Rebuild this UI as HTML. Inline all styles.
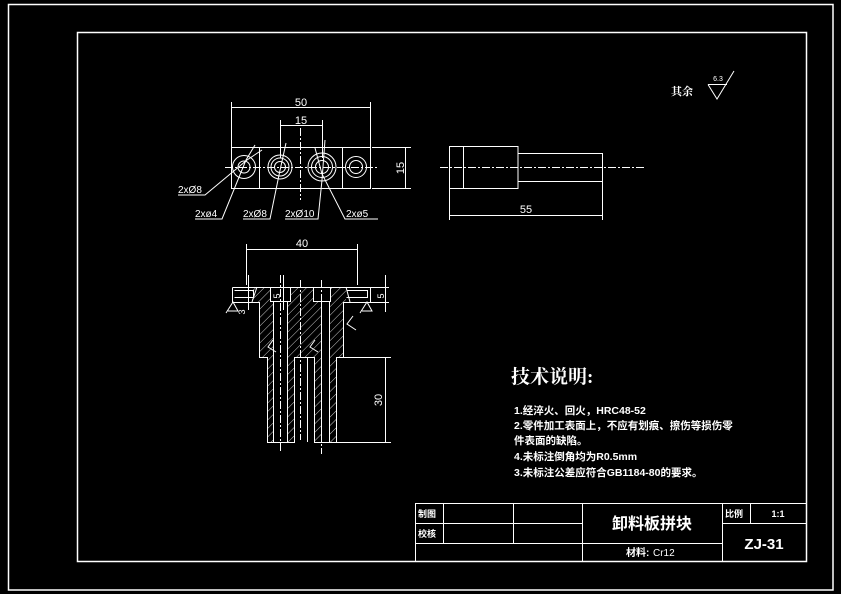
<!DOCTYPE html>
<html><head><meta charset="utf-8"><style>
html,body{margin:0;padding:0;background:#000;width:841px;height:594px;overflow:hidden}
svg{display:block}
text{fill:#fff;font-family:"Liberation Sans","Noto Sans CJK SC",sans-serif}
.c{font-family:"Liberation Serif","Noto Serif CJK SC","Noto Sans CJK SC",serif;font-weight:bold}
</style></head><body>
<svg width="841" height="594" viewBox="0 0 841 594" xmlns="http://www.w3.org/2000/svg">
<defs>
<pattern id="h" width="6" height="6" patternUnits="userSpaceOnUse" patternTransform="rotate(45)">
<line x1="0" y1="0" x2="0" y2="6" stroke="#fff" stroke-width="0.8"/>
</pattern>
</defs>
<g fill="none" stroke="#fff" stroke-width="1">
<rect x="8.5" y="4.5" width="824.5" height="585.5" stroke-width="1.5"/>
<rect x="77.5" y="32.5" width="729" height="529" stroke-width="1.5"/>

<!-- top view -->
<rect x="231.5" y="147.5" width="139" height="41"/>
<line x1="259.5" y1="147" x2="259.5" y2="189"/>
<line x1="342.5" y1="147" x2="342.5" y2="189"/>
<line x1="300.5" y1="128" x2="300.5" y2="200" stroke-dasharray="8,2,2,2"/>
<line x1="225" y1="167.5" x2="378" y2="167.5" stroke-dasharray="8,2,2,2"/>
<circle cx="244" cy="167" r="11.5"/><circle cx="244" cy="167" r="6"/>
<circle cx="280" cy="167" r="12"/><circle cx="280" cy="167" r="9"/><circle cx="280" cy="167" r="5.5"/>
<circle cx="322" cy="167" r="14"/><circle cx="322" cy="167" r="10.5"/><circle cx="322" cy="167" r="6.5"/>
<circle cx="356" cy="167" r="10.5"/><circle cx="356" cy="167" r="6.5"/>
<!-- dims -->
<line x1="231.5" y1="102" x2="231.5" y2="147"/><line x1="370.5" y1="102" x2="370.5" y2="147"/>
<line x1="231.5" y1="107.5" x2="370.5" y2="107.5"/>
<line x1="280.5" y1="120" x2="280.5" y2="158"/><line x1="322.5" y1="120" x2="322.5" y2="158"/>
<line x1="280.5" y1="125.5" x2="322.5" y2="125.5"/>
<line x1="372" y1="147.5" x2="411" y2="147.5"/><line x1="372" y1="188.5" x2="411" y2="188.5"/>
<line x1="405.5" y1="147.5" x2="405.5" y2="188.5"/>
<!-- leaders -->
<polyline points="178,195 205,195 247,160 262,150"/>
<polyline points="195,219 222,219 246,160 255,145"/>
<polyline points="243,219 270,219 279,175 286,143"/>
<polyline points="285,219 318,219 322,180 325,140"/>
<polyline points="378,219 345,219 322,174 315,148"/>

<!-- right view -->
<rect x="449.5" y="146.5" width="68.5" height="42"/>
<line x1="463.5" y1="146.5" x2="463.5" y2="188.5"/>
<rect x="518" y="153.5" width="84.5" height="28"/>
<line x1="440" y1="167.5" x2="645" y2="167.5" stroke-dasharray="8,2,2,2"/>
<line x1="449.5" y1="189" x2="449.5" y2="220"/><line x1="602.5" y1="182" x2="602.5" y2="220"/>
<line x1="449.5" y1="215.5" x2="602.5" y2="215.5"/>

<!-- roughness -->
<polyline points="708,84.5 727,84.5"/>
<polyline points="708,84.5 717,99 734,71"/>

<!-- section view hatch -->
<g fill="url(#h)" stroke="none">
<polygon points="252,287 270,287 270,301 273,301 273,442 267,442 267,357 259,357 259,302 252,302"/>
<polygon points="290,287 313,287 313,301 321,301 321,442 314,442 314,357 294,357 294,442 287,442 287,301 290,301"/>
<polygon points="330,287 346,287 346,302 343,302 343,357 336,357 336,442 329,442 329,301 330,301"/>
</g>
<polyline points="232.5,287.5 389,287.5"/>
<polyline points="232.5,287.5 232.5,302.5 259.5,302.5 259.5,357.5 267.5,357.5 267.5,442.5 294.5,442.5 294.5,357.5 314.5,357.5 314.5,442.5 336.5,442.5 336.5,357.5 343.5,357.5 343.5,302.5 370.5,302.5 370.5,287.5"/>
<polyline points="270.5,287.5 270.5,301.5 290.5,301.5 290.5,287.5"/>
<polyline points="313.5,287.5 313.5,301.5 330.5,301.5 330.5,287.5"/>
<line x1="273.5" y1="301" x2="273.5" y2="442"/><line x1="287.5" y1="301" x2="287.5" y2="442"/>
<line x1="321.5" y1="301" x2="321.5" y2="442"/><line x1="329.5" y1="301" x2="329.5" y2="442"/>
<line x1="307.5" y1="357" x2="307.5" y2="442"/>
<polyline points="234.5,290.5 253.5,290.5 253.5,297.5 234.5,297.5"/>
<polyline points="346.5,290.5 367.5,290.5 367.5,297.5 346.5,297.5"/>
<line x1="252" y1="302" x2="257" y2="287"/><line x1="346" y1="287" x2="350" y2="302"/>
<line x1="280.5" y1="275" x2="280.5" y2="452" stroke-dasharray="8,2,2,2"/>
<line x1="321.5" y1="280" x2="321.5" y2="454" stroke-dasharray="8,2,2,2"/>
<line x1="300.5" y1="280" x2="300.5" y2="440" stroke-dasharray="8,2,2,2"/>
<line x1="246.5" y1="244" x2="246.5" y2="285"/><line x1="357.5" y1="244" x2="357.5" y2="285"/>
<line x1="246.5" y1="249.5" x2="357.5" y2="249.5"/>
<line x1="248.5" y1="275" x2="248.5" y2="310"/><line x1="283.5" y1="275" x2="283.5" y2="310"/>
<line x1="385.5" y1="275" x2="385.5" y2="312"/>
<line x1="370" y1="302.5" x2="389" y2="302.5"/>
<line x1="344" y1="357.5" x2="391" y2="357.5"/><line x1="337" y1="442.5" x2="391" y2="442.5"/>
<line x1="385.5" y1="357.5" x2="385.5" y2="442.5"/>
<!-- small roughness marks -->
<polyline points="226,313 233,302 238,311 228,311"/>
<polyline points="360,313 367,302 372,311 362,311"/>
<polyline points="356,330 347,324 353,316"/>
<polyline points="276,352 268,347 273,340"/>
<polyline points="318,352 310,347 315,340"/>

<!-- title block -->
<rect x="415.5" y="503.5" width="391" height="58"/>
<line x1="415" y1="523.5" x2="582" y2="523.5"/>
<line x1="415" y1="543.5" x2="722" y2="543.5"/>
<line x1="722" y1="523.5" x2="806" y2="523.5"/>
<line x1="443.5" y1="503" x2="443.5" y2="543"/>
<line x1="513.5" y1="503" x2="513.5" y2="543"/>
<line x1="582.5" y1="503" x2="582.5" y2="562"/>
<line x1="722.5" y1="503" x2="722.5" y2="562"/>
<line x1="750.5" y1="503" x2="750.5" y2="523"/>
</g>

<g font-size="11">
<text x="301" y="106" text-anchor="middle">50</text>
<text x="301" y="124" text-anchor="middle">15</text>
<text x="404" y="168" text-anchor="middle" transform="rotate(-90 404 168)">15</text>
<text x="178" y="193" font-size="10">2xØ8</text>
<text x="195" y="217" font-size="10">2xø4</text>
<text x="243" y="217" font-size="10">2xØ8</text>
<text x="285" y="217" font-size="10">2xØ10</text>
<text x="346" y="217" font-size="10">2xø5</text>
<text x="526" y="213" text-anchor="middle">55</text>
<text x="302" y="247" text-anchor="middle">40</text>
<text x="283" y="414" text-anchor="middle" transform="rotate(-90 283 414)"></text>
<text x="382" y="400" text-anchor="middle" transform="rotate(-90 382 400)">30</text>
<text x="280" y="296" font-size="9" text-anchor="middle" transform="rotate(-90 280 296)">5</text>
<text x="384" y="296" font-size="9" text-anchor="middle" transform="rotate(-90 384 296)">5</text>
<text x="245" y="312" font-size="9" text-anchor="middle" transform="rotate(-90 245 312)">3</text>
</g>
<text x="718" y="81" font-size="7" text-anchor="middle">6.3</text>
<text x="671" y="95" font-size="11" class="c">其余</text>

<text x="511" y="383" font-size="19" class="c">技术说明:</text>
<g font-size="10.5" class="c">
<text x="514" y="414">1.经淬火、回火，HRC48-52</text>
<text x="514" y="429">2.零件加工表面上，不应有划痕、擦伤等损伤零</text>
<text x="514" y="444">件表面的缺陷。</text>
<text x="514" y="460">4.未标注倒角均为R0.5mm</text>
<text x="514" y="476">3.未标注公差应符合GB1184-80的要求。</text>
</g>

<g class="c">
<text x="418" y="517" font-size="9">制图</text>
<text x="418" y="537" font-size="9">校核</text>
<text x="652" y="529" font-size="16" text-anchor="middle">卸料板拼块</text>
<text x="626" y="556" font-size="10">材料:</text>
<text x="653" y="556" font-size="10" font-weight="normal" style="font-family:'Liberation Sans',sans-serif">Cr12</text>
<text x="725" y="517" font-size="9">比例</text>
<text x="778" y="517" font-size="9" text-anchor="middle">1:1</text>
<text x="764" y="549" font-size="15" text-anchor="middle">ZJ-31</text>
</g>
</svg>
</body></html>
